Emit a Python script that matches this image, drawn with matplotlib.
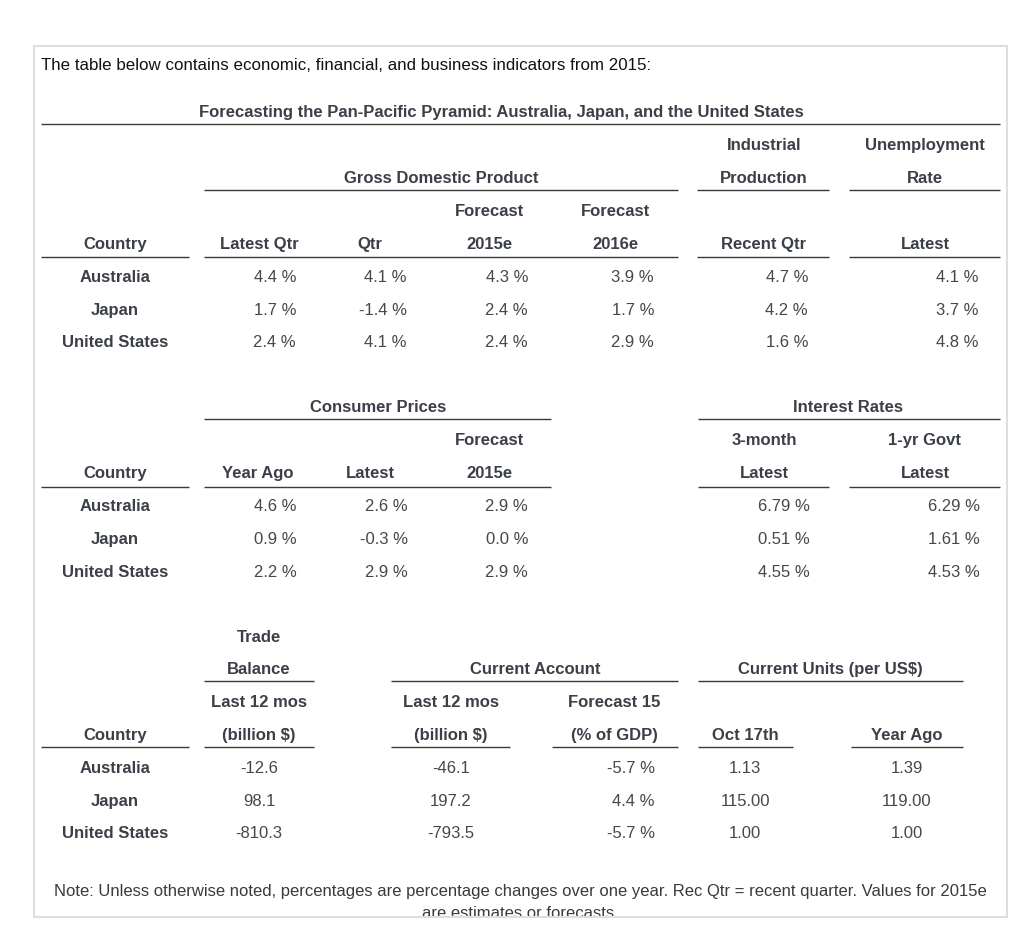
import matplotlib
matplotlib.use("Agg")
import matplotlib.pyplot as plt
from matplotlib.patches import Rectangle

# ---------------- data ----------------
countries = ["Australia", "Japan", "United States"]

gdp_latest_qtr = [4.4, 1.7, 2.4]
gdp_qtr = [4.1, -1.4, 4.1]
gdp_2015e = [4.3, 2.4, 2.4]
gdp_2016e = [3.9, 1.7, 2.9]
ind_prod_recent_qtr = [4.7, 4.2, 1.6]
unemployment_latest = [4.1, 3.7, 4.8]

cpi_year_ago = [4.6, 0.9, 2.2]
cpi_latest = [2.6, -0.3, 2.9]
cpi_2015e = [2.9, 0.0, 2.9]
rate_3month = [6.79, 0.51, 4.55]
rate_1yr_govt = [6.29, 1.61, 4.53]

trade_balance = [-12.6, 98.1, -810.3]
current_account_bn = [-46.1, 197.2, -793.5]
current_account_gdp = [-5.7, 4.4, -5.7]
units_oct17 = [1.13, 115.00, 1.00]
units_year_ago = [1.39, 119.00, 1.00]

intro_text = "The table below contains economic, financial, and business indicators from 2015:"
title_text = "Forecasting the Pan-Pacific Pyramid: Australia, Japan, and the United States"
note_lines = ["Note: Unless otherwise noted, percentages are percentage changes over one year. Rec Qtr = recent quarter. Values for 2015e",
              "are estimates or forecasts."]

# ---------------- layout ----------------
W, H = 1024, 939
fig = plt.figure(figsize=(W / 100, H / 100), dpi=100)
ax = fig.add_axes([0, 0, 1, 1])
ax.set_xlim(0, W)
ax.set_ylim(H, 0)
ax.axis("off")

FONT = "Liberation Sans"
FS = 12.0
HDR_C = "#3b3f48"
DAT_C = "#474747"
LINE_C = "#3a3a3a"
LW = 1.0
BASE = 6.3   # baseline offset from cap-centre

def hdr(x, y, s, ha="center"):
    ax.text(x, y + BASE, s, ha=ha, va="baseline", fontsize=FS, fontweight="bold",
            color=HDR_C, family=FONT)

def dat(x, y, s, ha="right"):
    ax.text(x, y + BASE, s, ha=ha, va="baseline", fontsize=FS, color=DAT_C, family=FONT)

def rule(x0, x1, y):
    ax.plot([x0, x1], [y, y], color=LINE_C, lw=LW, solid_capstyle="butt")

def pct(v, d=1):
    return f"{v:.{d}f} %"

# outer box
ax.add_patch(Rectangle((34, 46), 973, 871, fill=False, edgecolor="#dedede", lw=1.5, zorder=5))

ax.text(41, 64 + BASE, intro_text, ha="left", va="baseline", fontsize=12.2, color="#111111", family=FONT)
hdr(501, 111, title_text)
rule(41, 1000, 124)

# ---------- section 1 ----------
hdr(764, 144, "Industrial")
hdr(925, 144, "Unemployment")
hdr(441, 177, "Gross Domestic Product")
hdr(764, 177, "Production")
hdr(925, 177, "Rate")
rule(204, 678, 190); rule(697, 829, 190); rule(849, 1000, 190)
hdr(489, 210, "Forecast")
hdr(615, 210, "Forecast")
for x, s in [(115, "Country"), (259, "Latest Qtr"), (370, "Qtr"), (489, "2015e"),
             (615, "2016e"), (764, "Recent Qtr"), (925, "Latest")]:
    hdr(x, 243, s)
rule(41, 189, 256.5); rule(204, 678, 256.5); rule(697, 829, 256.5); rule(849, 1000, 256.5)
rows1 = [276, 308.5, 341]
for i, y in enumerate(rows1):
    hdr(115, y, countries[i])
    dat(296, y, pct(gdp_latest_qtr[i]))
    dat(407, y, pct(gdp_qtr[i]))
    dat(528, y, pct(gdp_2015e[i]))
    dat(654, y, pct(gdp_2016e[i]))
    dat(808, y, pct(ind_prod_recent_qtr[i]))
    dat(979, y, pct(unemployment_latest[i]))

# ---------- section 2 ----------
hdr(378, 406, "Consumer Prices")
hdr(848, 406, "Interest Rates")
rule(204, 551, 419); rule(698, 1000, 419)
hdr(489, 439, "Forecast")
hdr(764, 439, "3-month")
hdr(925, 439, "1-yr Govt")
for x, s in [(115, "Country"), (258, "Year Ago"), (370, "Latest"), (489, "2015e"),
             (764, "Latest"), (925, "Latest")]:
    hdr(x, 472, s)
rule(41, 189, 487); rule(204, 551, 487); rule(698, 829, 487); rule(849, 1000, 487)
rows2 = [505, 538, 571]
for i, y in enumerate(rows2):
    hdr(115, y, countries[i])
    dat(297, y, pct(cpi_year_ago[i]))
    dat(408, y, pct(cpi_latest[i]))
    dat(528, y, pct(cpi_2015e[i]))
    dat(810, y, pct(rate_3month[i], 2))
    dat(980, y, pct(rate_1yr_govt[i], 2))

# ---------- section 3 ----------
hdr(259, 636, "Trade")
hdr(259, 668, "Balance")
hdr(535, 668, "Current Account")
hdr(830, 668, "Current Units (per US$)")
rule(204, 314, 681); rule(391, 678, 681); rule(698, 963, 681)
hdr(259, 701, "Last 12 mos")
hdr(451, 701, "Last 12 mos")
hdr(614, 701, "Forecast 15")
for x, s in [(115, "Country"), (259, "(billion $)"), (451, "(billion $)"),
             (614, "(% of GDP)"), (745, "Oct 17th"), (907, "Year Ago")]:
    hdr(x, 734, s)
rule(41, 189, 747); rule(204, 314, 747); rule(391, 510, 747); rule(552, 678, 747)
rule(698, 793, 747); rule(851, 963, 747)
rows3 = [767, 800, 832]
for i, y in enumerate(rows3):
    hdr(115, y, countries[i])
    dat(259, y, f"{trade_balance[i]:.1f}", ha="center")
    dat(451, y, f"{current_account_bn[i]:.1f}", ha="center")
    dat(655, y, pct(current_account_gdp[i]))
    dat(745, y, f"{units_oct17[i]:.2f}", ha="center")
    dat(907, y, f"{units_year_ago[i]:.2f}", ha="center")

# note
ax.text(520, 890 + BASE, note_lines[0], ha="center", va="baseline", fontsize=FS, color="#3a3a3a", family=FONT)
ax.text(520, 912 + BASE, note_lines[1], ha="center", va="baseline", fontsize=FS, color="#3a3a3a", family=FONT)

fig.savefig("out.png", dpi=100)
